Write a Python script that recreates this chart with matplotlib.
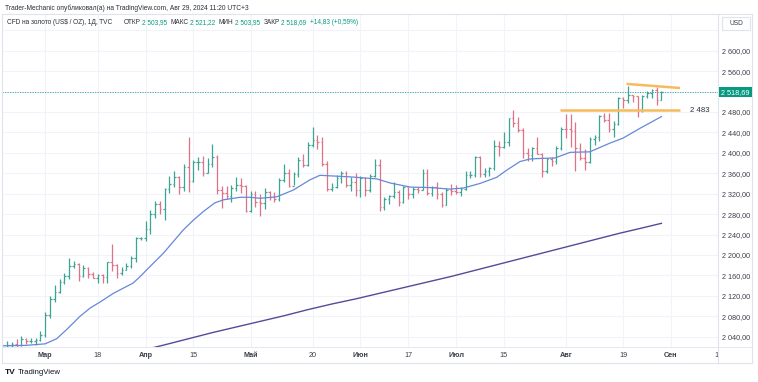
import numpy as np
import pandas as pd
import matplotlib
matplotlib.use("Agg")
import matplotlib.pyplot as plt
from matplotlib.collections import LineCollection
from matplotlib.patches import Rectangle
from matplotlib.lines import Line2D

plt.rcParams['font.family'] = ['Liberation Sans', 'DejaVu Sans']

# daily bars, TVC gold CFD, 22 Jan .. 29 Aug 2024 (one row per week)
opens = [
    2029, 2021, 2029, 2014, 2020,
    2018, 2032, 2037, 2039, 2054,
    2039, 2025, 2035, 2035, 2034,
    2024, 2020, 1992, 1992, 2004,
    2013, 2018, 2024, 2025, 2024,
    2035, 2031, 2031, 2034, 2044,
    2083, 2114, 2128, 2148, 2159,
    2179, 2182, 2158, 2175, 2162,
    2155, 2160, 2157, 2186, 2181,
    2165, 2171, 2179, 2194, 2233,
    2233, 2250, 2280, 2300, 2290,
    2329, 2339, 2352, 2333, 2373,
    2344, 2383, 2383, 2361, 2379,
    2391, 2327, 2322, 2316, 2332,
    2337, 2335, 2286, 2320, 2303,
    2301, 2323, 2314, 2309, 2346,
    2360, 2336, 2358, 2386, 2376,
    2415, 2425, 2421, 2379, 2329,
    2334, 2350, 2361, 2338, 2343,
    2327, 2350, 2327, 2355, 2376,
    2294, 2310, 2316, 2324, 2303,
    2333, 2319, 2329, 2328, 2360,
    2322, 2334, 2319, 2298, 2327,
    2326, 2323, 2330, 2356, 2356,
    2392, 2359, 2364, 2371, 2414,
    2411, 2422, 2469, 2458, 2445,
    2400, 2396, 2409, 2397, 2364,
    2387, 2384, 2410, 2447, 2446,
    2443, 2409, 2390, 2382, 2427,
    2431, 2472, 2465, 2447, 2456,
    2507, 2504, 2513, 2512, 2484,
    2512, 2518, 2524, 2503.95,
]
highs = [
    2033, 2033, 2037, 2023, 2025,
    2036, 2043, 2056, 2065, 2066,
    2040, 2040, 2043, 2038, 2037,
    2033, 2031, 1997, 2009, 2016,
    2022, 2031, 2030, 2035, 2041,
    2037, 2037, 2037, 2052, 2088,
    2120, 2142, 2152, 2165, 2195,
    2189, 2185, 2180, 2176, 2166,
    2163, 2163, 2187, 2222, 2182,
    2176, 2184, 2198, 2236, 2236,
    2266, 2288, 2305, 2305, 2331,
    2354, 2365, 2354, 2378, 2431,
    2386, 2392, 2393, 2390, 2418,
    2395, 2335, 2336, 2338, 2352,
    2350, 2337, 2326, 2326, 2320,
    2331, 2326, 2323, 2351, 2378,
    2368, 2362, 2392, 2398, 2422,
    2450, 2435, 2431, 2385, 2340,
    2356, 2364, 2364, 2352, 2360,
    2354, 2352, 2358, 2388, 2387,
    2314, 2317, 2342, 2327, 2335,
    2334, 2333, 2334, 2368, 2369,
    2336, 2343, 2324, 2331, 2339,
    2338, 2334, 2364, 2364, 2393,
    2393, 2370, 2373, 2425, 2424,
    2440, 2469, 2483, 2471, 2448,
    2410, 2412, 2431, 2400, 2390,
    2392, 2413, 2451, 2477, 2477,
    2461, 2419, 2407, 2431, 2434,
    2474, 2478, 2479, 2463, 2509,
    2510, 2531, 2514, 2512, 2513,
    2521, 2526, 2528, 2521.22,
]
lows = [
    2017, 2011, 2010, 2009, 2010,
    2016, 2030, 2028, 2034, 2031,
    2015, 2021, 2031, 2024, 2021,
    2016, 1990, 1984, 1988, 1996,
    2011, 2014, 2020, 2018, 2022,
    2025, 2027, 2024, 2031, 2040,
    2076, 2108, 2125, 2143, 2152,
    2174, 2150, 2156, 2154, 2154,
    2146, 2146, 2146, 2168, 2155,
    2160, 2170, 2174, 2186, 2229,
    2228, 2242, 2272, 2280, 2268,
    2321, 2333, 2319, 2325, 2324,
    2343, 2366, 2355, 2360, 2373,
    2319, 2292, 2310, 2304, 2325,
    2321, 2285, 2285, 2294, 2277,
    2290, 2307, 2303, 2306, 2343,
    2333, 2337, 2353, 2373, 2375,
    2411, 2407, 2374, 2326, 2325,
    2332, 2340, 2334, 2326, 2316,
    2314, 2316, 2324, 2352, 2287,
    2288, 2299, 2311, 2296, 2302,
    2310, 2311, 2322, 2327, 2317,
    2316, 2310, 2294, 2297, 2318,
    2319, 2316, 2328, 2351, 2352,
    2353, 2352, 2355, 2367, 2393,
    2410, 2414, 2450, 2441, 2390,
    2384, 2385, 2397, 2353, 2361,
    2375, 2378, 2406, 2430, 2411,
    2364, 2386, 2367, 2380, 2415,
    2424, 2461, 2441, 2432, 2455,
    2488, 2498, 2500, 2470, 2480,
    2507, 2507, 2494, 2503.95,
]
closes = [
    2021, 2029, 2014, 2020, 2018,
    2032, 2037, 2039, 2054, 2039,
    2025, 2035, 2035, 2034, 2024,
    2020, 1992, 1992, 2004, 2013,
    2018, 2024, 2025, 2024, 2035,
    2031, 2031, 2034, 2044, 2083,
    2114, 2128, 2148, 2159, 2179,
    2182, 2158, 2175, 2162, 2155,
    2160, 2157, 2186, 2181, 2165,
    2171, 2179, 2194, 2233, 2233,
    2250, 2280, 2300, 2290, 2329,
    2339, 2352, 2333, 2373, 2344,
    2383, 2383, 2361, 2379, 2391,
    2327, 2322, 2316, 2332, 2337,
    2335, 2286, 2320, 2303, 2301,
    2323, 2314, 2309, 2346, 2360,
    2336, 2358, 2386, 2376, 2415,
    2425, 2421, 2379, 2329, 2334,
    2350, 2361, 2338, 2343, 2327,
    2350, 2327, 2355, 2376, 2294,
    2310, 2316, 2324, 2303, 2333,
    2319, 2329, 2328, 2360, 2322,
    2334, 2319, 2298, 2327, 2326,
    2323, 2330, 2356, 2356, 2392,
    2359, 2364, 2371, 2414, 2411,
    2422, 2469, 2458, 2445, 2400,
    2396, 2409, 2397, 2364, 2387,
    2384, 2410, 2447, 2446, 2443,
    2409, 2390, 2382, 2427, 2431,
    2472, 2465, 2447, 2456, 2507,
    2504, 2513, 2512, 2484, 2512,
    2518, 2524, 2504, 2518.69,
]

# moving averages (bar number counted from 1 Mar)
ma20_bar = [-9.5, -4, 0, 2.4, 4.5, 7.3, 9.4, 11.5, 14.3, 18.4, 19.8, 21.9, 24.7,
            26.8, 28.9, 31.0, 33.1, 35.5, 37.3, 40.8, 42.9, 45.0, 48.5, 51.9,
            55.4, 57.5, 59.6, 63.8, 69.4, 72.2, 74.3, 76.4, 80.6, 84.7, 87.5,
            91.0, 94.5, 96.6, 99.4, 101.5, 103.6, 106.7, 109.9, 114.0, 118.2,
            121.0, 124.5, 129]
ma20_val = [2022, 2023, 2026, 2036, 2054, 2080, 2096, 2108, 2125, 2145, 2157,
            2177, 2203, 2226, 2249, 2268, 2285, 2302, 2308, 2313, 2313, 2311,
            2314, 2327, 2347, 2356, 2355, 2353, 2349, 2341, 2337, 2333, 2332,
            2329, 2331, 2340, 2352, 2366, 2383, 2388, 2389, 2390, 2401, 2402,
            2419, 2429, 2448, 2471]
ma200_bar = [18, 25, 30, 35, 40, 45, 50, 55, 60, 65, 70, 75, 80, 85, 90, 95,
             100, 105, 110, 115, 120, 125, 129]
ma200_val = [2008, 2024, 2036, 2048, 2059, 2070, 2081, 2093, 2104, 2114, 2125,
             2136, 2147, 2158, 2170, 2182, 2194, 2206, 2218, 2230, 2242, 2253, 2262]

tick_dates = ['2024-03-01', '2024-03-18', '2024-04-01', '2024-04-15', '2024-05-01',
              '2024-05-20', '2024-06-03', '2024-06-17', '2024-07-01', '2024-07-15',
              '2024-08-01', '2024-08-19', '2024-09-02', '2024-09-16']
tick_labels = ['Мар', '18', 'Апр', '15', 'Май', '20', 'Июн', '17', 'Июл', '15',
               'Авг', '19', 'Сен', '16']
month_ticks = {'Мар', 'Апр', 'Май', 'Июн', 'Июл', 'Авг', 'Сен'}

price_ticks = list(range(2040, 2601, 40))
last_close = 2518.69
level_line = 2483
wedge_top = [2535, 2527]
wedge_x = [121.7, 132.9]
level_x = [107.8, 132.9]

opens = np.array(opens, float)
highs = np.array(highs, float)
lows = np.array(lows, float)
closes = np.array(closes, float)
n = len(closes)
first_march = int(np.busday_count(np.datetime64('2024-01-22'), np.datetime64('2024-03-01')))
xs = np.arange(n) - first_march

W, H = 758, 382
fig = plt.figure(figsize=(W / 100, H / 100), dpi=100)
fig.patch.set_facecolor('white')


def fx(px):
    return px / W


def fy(py):
    return 1 - py / H


ax = fig.add_axes([fx(2), fy(347), fx(718) - fx(2), fy(14) - fy(347)])
ax.set_xlim(-9.04, 140.84)
ax.set_ylim(2019.8, 2671.9)
for s in ax.spines.values():
    s.set_visible(False)

tick_pos = [int(np.busday_count(np.datetime64('2024-03-01'), np.datetime64(d))) for d in tick_dates]
grid_c = '#f0f3fa'
for p in tick_pos:
    ax.axvline(p, color=grid_c, lw=0.8, zorder=0)
for p in range(2040, 2641, 40):
    ax.axhline(p, color=grid_c, lw=0.8, zorder=0)

ax.set_xticks([])
ax.yaxis.tick_right()
ax.set_yticks(price_ticks)
ax.set_yticklabels(['{:,}'.format(p).replace(',', ' ') + ',00' for p in price_ticks])
ax.tick_params(axis='y', length=0, pad=3.2, labelsize=5.2, labelcolor='#3a3e4a')

# OHLC bars
up_c, dn_c = '#3aa596', '#e07287'
segs, cols = [], []
tw = 0.33
for x, o, h, l, c in zip(xs, opens, highs, lows, closes):
    col = up_c if c >= o else dn_c
    segs += [[(x, l), (x, h)], [(x - tw, o), (x, o)], [(x, c), (x + tw, c)]]
    cols += [col] * 3
ax.add_collection(LineCollection(segs, colors=cols, linewidths=0.9, zorder=3))

ax.plot(ma20_bar, ma20_val, color='#6688d8', lw=0.9, zorder=4)
ax.plot(ma200_bar, ma200_val, color='#544b98', lw=1.0, zorder=4)

ax.axhline(last_close, color='#26a69a', lw=0.6, ls=(0, (1.5, 1.5)), zorder=2)
ax.plot(wedge_x, wedge_top, color='#f7bb5c', lw=1.8, solid_capstyle='butt', zorder=5)
ax.plot(level_x, [level_line, level_line], color='#f7bb5c', lw=1.8,
        solid_capstyle='butt', zorder=5)
ax.text(135.0, level_line, '2 483', fontsize=5.6, color='#2a2e39', va='center', ha='left')

# time scale strip
axt = fig.add_axes([fx(2), fy(363), fx(718) - fx(2), fy(347) - fy(363)])
axt.set_xlim(ax.get_xlim())
axt.set_ylim(0, 1)
axt.axis('off')
for p, lab in zip(tick_pos, tick_labels):
    axt.text(p, 0.45, lab, ha='center', va='center', fontsize=5.2, color='#3a3e4a',
             fontweight='bold' if lab in month_ticks else 'normal', clip_on=True)

# frame lines
fr = '#e0e3eb'
fig.lines += [
    Line2D([fx(2), fx(752)], [fy(14), fy(14)], color=fr, lw=0.8, transform=fig.transFigure),
    Line2D([fx(2), fx(752)], [fy(363), fy(363)], color=fr, lw=0.8, transform=fig.transFigure),
    Line2D([fx(2), fx(2)], [fy(14), fy(363)], color=fr, lw=0.8, transform=fig.transFigure),
    Line2D([fx(752), fx(752)], [fy(14), fy(363)], color=fr, lw=0.8, transform=fig.transFigure),
    Line2D([fx(718), fx(718)], [fy(14), fy(363)], color=fr, lw=0.8, transform=fig.transFigure),
    Line2D([fx(2), fx(752)], [fy(347), fy(347)], color=fr, lw=0.6, transform=fig.transFigure),
]

# last price badge and currency box
py = 50.7 + (2600 - last_close) * 0.5107
fig.patches.append(Rectangle((fx(719), fy(py + 5)), fx(33), 10 / H, transform=fig.transFigure,
                             fc='#089981', ec='none', zorder=10))
fig.text(fx(735.5), fy(py), '2 518,69', color='white', fontsize=5.2, ha='center', va='center',
         zorder=11)
fig.patches.append(Rectangle((fx(722), fy(30)), fx(28), 13 / H, transform=fig.transFigure,
                             fc='white', ec=fr, lw=0.8, zorder=10))
fig.text(fx(736), fy(23.5), 'USD', color='#3a3e4a', fontsize=4.8, ha='center', va='center',
         zorder=11)

# header
dark = '#2a2e39'
green = '#089981'
fig.text(fx(5), fy(8), 'Trader-Mechanic опубликовал(а) на TradingView.com, Авг 29, 2024 11:20 UTC+3',
         fontsize=4.8, color=dark, va='center')

# legend line, pieces laid out one after another
legend_parts = ['CFD на золото (US$ / OZ), 1Д, TVC', 'ОТКР', '2 503,95', 'МАКС', '2 521,22',
                'МИН', '2 503,95', 'ЗАКР', '2 518,69', '+14,83 (+0,59%)']
legend_gap = [11, 1.5, 3.5, 1.5, 3.5, 1.5, 3.5, 1.5, 3.5, 0]
fig.canvas.draw()
rend = fig.canvas.get_renderer()
xp = 7
for i, (s, gap) in enumerate(zip(legend_parts, legend_gap)):
    c = dark if i in (0, 1, 3, 5, 7) else green
    t = fig.text(fx(xp), fy(23), s, color=c, fontsize=4.7, va='center', ha='left')
    xp = t.get_window_extent(renderer=rend).x1 + gap

# footer logo
fig.text(fx(5), fy(373), 'TV', fontsize=6, fontweight='heavy', color='#131722', va='center')
fig.text(fx(18), fy(373), 'TradingView', fontsize=5.6, color='#131722', va='center')

fig.savefig('out.png', dpi=100)
